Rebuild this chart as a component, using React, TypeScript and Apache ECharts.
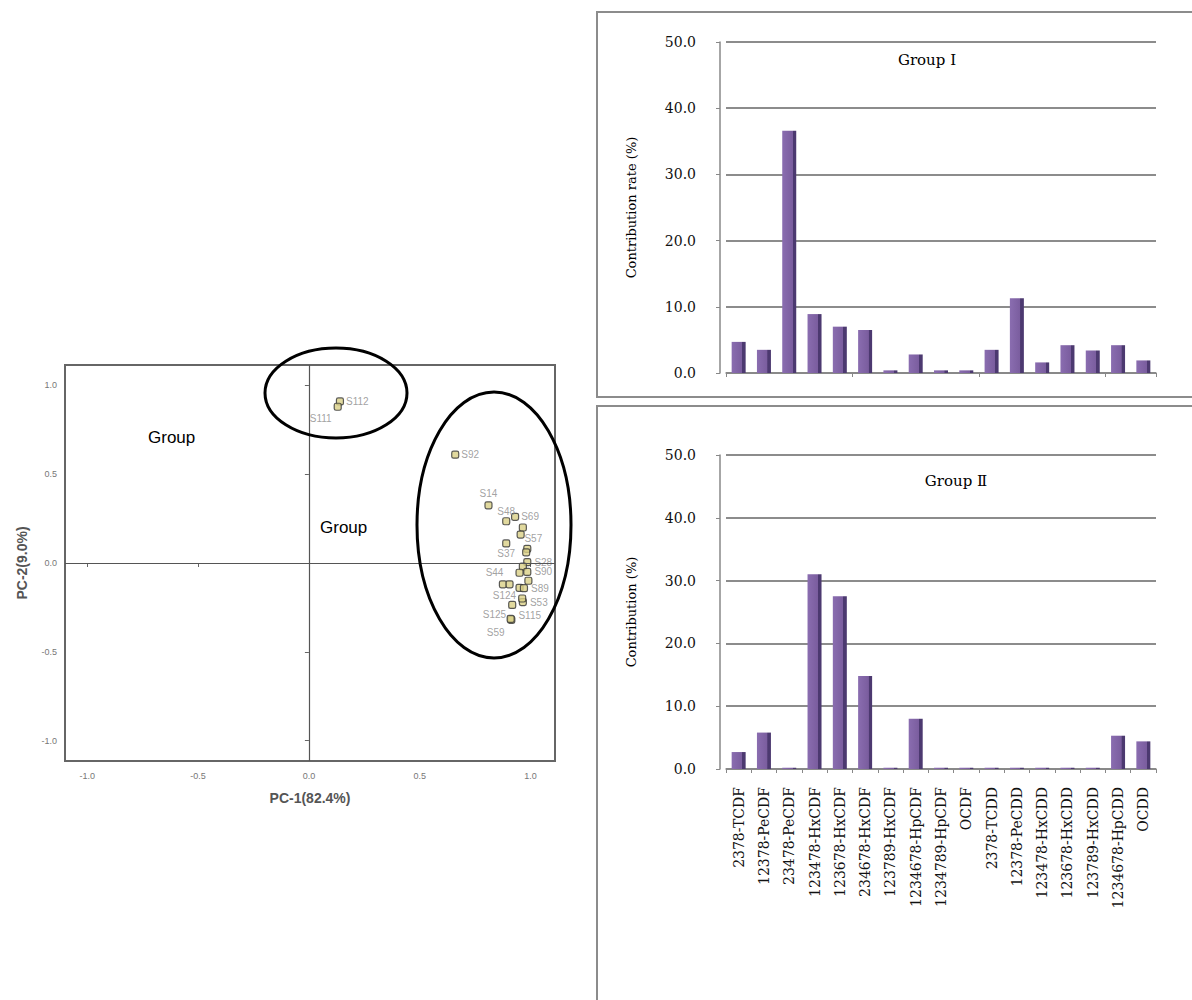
import React, { useEffect, useRef } from 'react';
import * as echarts from 'echarts';

// ---------- data ----------
const congeners = [
  '2378-TCDF', '12378-PeCDF', '23478-PeCDF', '123478-HxCDF', '123678-HxCDF',
  '234678-HxCDF', '123789-HxCDF', '1234678-HpCDF', '1234789-HpCDF', 'OCDF',
  '2378-TCDD', '12378-PeCDD', '123478-HxCDD', '123678-HxCDD', '123789-HxCDD',
  '1234678-HpCDD', 'OCDD',
];
const groupI = [4.7, 3.5, 36.6, 8.9, 7.0, 6.5, 0.4, 2.8, 0.4, 0.4, 3.5, 11.3, 1.6, 4.2, 3.4, 4.2, 1.9];
const groupII = [2.7, 5.8, 0.2, 31.0, 27.5, 14.8, 0.2, 8.0, 0.2, 0.2, 0.2, 0.2, 0.2, 0.2, 0.2, 5.3, 4.4];

const sampleNames = ['S112', 'S111', 'S92', 'S14', 'S48', 'S69', '', '', 'S57', '', 'S37', 'S28', '', 'S90', 'S44', '', '', '', '', 'S89', 'S53', 'S124', 'S125', 'S115', 'S59'];
const pc1 = [0.14, 0.13, 0.66, 0.81, 0.89, 0.93, 0.965, 0.955, 0.985, 0.98, 0.89, 0.985, 0.965, 0.985, 0.95, 0.99, 0.875, 0.905, 0.95, 0.97, 0.965, 0.962, 0.917, 0.913, 0.91];
const pc2 = [0.91, 0.88, 0.61, 0.325, 0.235, 0.26, 0.2, 0.16, 0.08, 0.06, 0.11, 0.005, -0.02, -0.05, -0.055, -0.1, -0.12, -0.12, -0.14, -0.142, -0.22, -0.2, -0.236, -0.32, -0.315];
const pcTicks = [-1.0, -0.5, 0.0, 0.5, 1.0];

// label placement (style only)
const labelPlace: Record<string, any> = {
  S112: { position: 'right', distance: 2 },
  S111: { position: 'left', distance: 2, offset: [0, 12] },
  S92: { position: 'right', distance: 2 },
  S14: { position: 'top', distance: 3 },
  S48: { position: 'top', distance: 1 },
  S69: { position: 'right', distance: 2 },
  S57: { position: 'top', distance: 1, offset: [6, 0] },
  S37: { position: 'bottom', distance: 1 },
  S28: { position: 'right', distance: 3 },
  S90: { position: 'right', distance: 3 },
  S44: { position: 'left', distance: 12 },
  S89: { position: 'right', distance: 3 },
  S53: { position: 'right', distance: 3 },
  S124: { position: 'left', distance: 2, offset: [0, -3] },
  S125: { position: 'left', distance: 2, offset: [0, 10] },
  S115: { position: 'right', distance: 3, offset: [0, -4] },
  S59: { position: 'left', distance: 2, offset: [0, 14] },
};

const serif = '"DejaVu Serif", "Liberation Serif", serif';
const sans = '"Liberation Sans", Arial, sans-serif';

const barColor = {
  type: 'linear', x: 0, y: 0, x2: 1, y2: 0,
  colorStops: [
    { offset: 0, color: '#8a6db0' },
    { offset: 0.74, color: '#7a5d9e' },
    { offset: 0.76, color: '#4c3970' },
    { offset: 1, color: '#4c3970' },
  ],
};

export default function App() {
  const ref = useRef<HTMLDivElement>(null);
  useEffect(() => {
    if (!ref.current) return;
    const chart = echarts.init(ref.current, undefined, { renderer: 'svg' });

    const scatterData = pc1.map((x, i) => {
      const name = sampleNames[i];
      const lp = name ? labelPlace[name] : null;
      return {
        value: [x, pc2[i]],
        name,
        label: lp
          ? { show: true, formatter: name, color: '#8a8a8a', fontSize: 10, fontFamily: sans, ...lp }
          : { show: false },
      };
    });

    const barYAxis = (gridIndex: number, name: string) => ({
      type: 'value',
      gridIndex,
      min: 0,
      max: 50,
      interval: 10,
      offset: 6,
      name,
      nameLocation: 'middle',
      nameGap: 82,
      nameRotate: 90,
      nameTextStyle: { fontFamily: serif, fontSize: 13, color: '#000' },
      axisLine: { show: true, lineStyle: { color: '#888', width: 1.5 } },
      axisTick: { show: true, length: 4, lineStyle: { color: '#888' } },
      axisLabel: { formatter: (v: number) => v.toFixed(1), fontFamily: serif, fontSize: 14, color: '#111', margin: 24 },
      splitLine: { show: true, lineStyle: { color: '#8c8c8c', width: 2 } },
    });

    const option: any = {
      animation: false,
      backgroundColor: '#fff',
      grid: [
        { left: 65, top: 365, width: 490, height: 396, show: true, borderColor: '#666', borderWidth: 2, backgroundColor: 'transparent' },
        { left: 726, top: 42, width: 430, height: 331 },
        { left: 726, top: 455, width: 430, height: 314 },
      ],
      xAxis: [
        {
          type: 'value', gridIndex: 0, min: -1.1, max: 1.11,
          name: 'PC-1(82.4%)', nameLocation: 'middle', nameGap: 30,
          nameTextStyle: { fontFamily: sans, fontSize: 14, fontWeight: 'bold', color: '#555' },
          axisLine: { show: false },
          axisTick: { show: true, length: 4, lineStyle: { color: '#666' }, customValues: pcTicks },
          axisLabel: { customValues: pcTicks, formatter: (v: number) => v.toFixed(1), fontSize: 9, color: '#777', fontFamily: sans, margin: 10 },
          splitLine: { show: false },
        },
        {
          type: 'category', gridIndex: 1, data: congeners,
          axisLine: { show: true, lineStyle: { color: '#888', width: 1.5 } },
          axisTick: { show: true, length: 4, lineStyle: { color: '#888' } },
          axisLabel: { show: false },
        },
        {
          type: 'category', gridIndex: 2, data: congeners,
          axisLine: { show: true, lineStyle: { color: '#888', width: 1.5 } },
          axisTick: { show: true, length: 4, lineStyle: { color: '#888' } },
          axisLabel: { rotate: 90, interval: 0, fontFamily: serif, fontSize: 14, color: '#111', margin: 18 },
        },
      ],
      yAxis: [
        {
          type: 'value', gridIndex: 0, min: -1.115, max: 1.115,
          name: 'PC-2(9.0%)', nameLocation: 'middle', nameGap: 36, nameRotate: 90,
          nameTextStyle: { fontFamily: sans, fontSize: 14, fontWeight: 'bold', color: '#555' },
          axisLine: { show: false },
          axisTick: { show: true, length: 4, lineStyle: { color: '#666' }, customValues: pcTicks },
          axisLabel: { customValues: pcTicks, formatter: (v: number) => v.toFixed(1), fontSize: 9, color: '#777', fontFamily: sans, margin: 8 },
          splitLine: { show: false },
        },
        barYAxis(1, 'Contribution rate (%)'),
        barYAxis(2, 'Contribution (%)'),
      ],
      series: [
        {
          type: 'scatter', xAxisIndex: 0, yAxisIndex: 0,
          symbol: 'roundRect', symbolSize: 7,
          itemStyle: { color: '#d9cf86', borderColor: '#333', borderWidth: 1.2 },
          data: scatterData,
          markLine: {
            silent: true, symbol: 'none', label: { show: false },
            lineStyle: { color: '#555', width: 1.2, type: 'solid' },
            data: [{ xAxis: 0 }, { yAxis: 0 }],
          },
          z: 3,
        },
        {
          type: 'bar', xAxisIndex: 1, yAxisIndex: 1, data: groupI,
          barWidth: 14, itemStyle: { color: barColor },
        },
        {
          type: 'bar', xAxisIndex: 2, yAxisIndex: 2, data: groupII,
          barWidth: 14, itemStyle: { color: barColor },
        },
      ],
      graphic: [
        { type: 'rect', shape: { x: 597, y: 12, width: 640, height: 385 }, style: { fill: 'none', stroke: '#8c8c8c', lineWidth: 2 }, z: -1 },
        { type: 'rect', shape: { x: 597, y: 406, width: 640, height: 640 }, style: { fill: 'none', stroke: '#8c8c8c', lineWidth: 2 }, z: -1 },
        { type: 'text', x: 927, y: 60, style: { text: 'Group Ⅰ', font: `15px ${serif}`, fill: '#000', textAlign: 'center', textVerticalAlign: 'middle' } },
        { type: 'text', x: 956, y: 481, style: { text: 'Group Ⅱ', font: `15px ${serif}`, fill: '#000', textAlign: 'center', textVerticalAlign: 'middle' } },
        { type: 'text', x: 148, y: 437, style: { text: 'Group', font: `17px ${sans}`, fill: '#000', textVerticalAlign: 'middle' } },
        { type: 'text', x: 320, y: 527, style: { text: 'Group', font: `17px ${sans}`, fill: '#000', textVerticalAlign: 'middle' } },
        { type: 'ellipse', shape: { cx: 336, cy: 393, rx: 71, ry: 45 }, style: { fill: 'none', stroke: '#000', lineWidth: 3 }, z: 10 },
        { type: 'ellipse', shape: { cx: 494, cy: 525, rx: 77, ry: 133 }, style: { fill: 'none', stroke: '#000', lineWidth: 3 }, z: 10 },
      ],
    };
    chart.setOption(option);
    return () => chart.dispose();
  }, []);
  return <div ref={ref} style={{ position: 'fixed', left: 0, top: 0, width: 1192, height: 1000, background: '#fff' }} />;
}
